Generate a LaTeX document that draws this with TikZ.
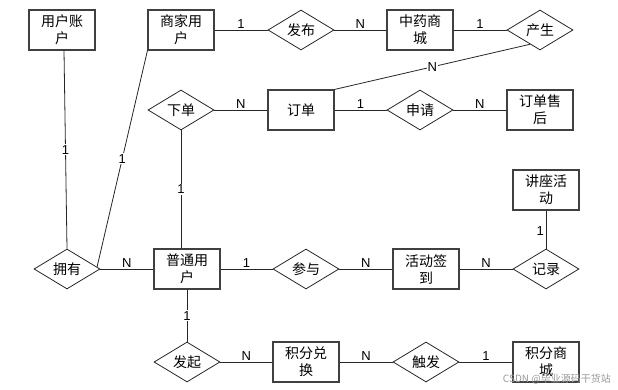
\documentclass[tikz,border=0pt]{standalone}
\usepackage{fontspec}
\setmainfont{Liberation Sans}
\newfontfamily\cjk{Noto Sans CJK SC}
\usetikzlibrary{shapes.geometric,calc}
\begin{document}
\begin{tikzpicture}[x=1pt,y=-1pt,
  entity/.style={draw=black!75,line width=1.1pt,minimum width=66pt,minimum height=40pt,inner sep=0pt,align=center,font=\cjk\fontsize{14}{17}\selectfont},
  rel/.style={diamond,draw=black!85,line width=0.8pt,minimum width=66pt,minimum height=40pt,inner sep=0pt,aspect=1.65,font=\cjk\fontsize{14}{17}\selectfont},
  conn/.style={draw=black!85,line width=0.8pt},
  lbl/.style={fill=white,inner sep=0.8pt,font=\fontsize{13}{13}\selectfont},
  lblh/.style={lbl,midway,yshift=5.5pt},
  lblv/.style={lbl,midway}]
\useasboundingbox (0,0) rectangle (618,390);
% entities
\node[entity] (zhanghu) at (62,30) {用户账\\户};
\node[entity] (shangjia) at (181,30) {商家用\\户};
\node[entity] (shangcheng) at (420,30) {中药商\\城};
\node[entity] (dingdan) at (301,110) {订单};
\node[entity] (shouhou) at (540,110) {订单售\\后};
\node[entity] (jiangzuo) at (546,190) {讲座活\\动};
\node[entity] (putong) at (187,269) {普通用\\户};
\node[entity] (qiandao) at (426,269) {活动签\\到};
\node[entity] (duihuan) at (306,362) {积分兑\\换};
\node[entity] (jifen) at (546,362) {积分商\\城};
% relationships
\node[rel] (fabu) at (301,30) {发布};
\node[rel] (chansheng) at (540,30) {产生};
\node[rel] (xiadan) at (181,110) {下单};
\node[rel] (shenqing) at (420,110) {申请};
\node[rel] (yongyou) at (67,269) {拥有};
\node[rel] (canyu) at (306,269) {参与};
\node[rel] (jilu) at (546,269) {记录};
\node[rel] (faqi) at (187,362) {发起};
\node[rel] (chufa) at (426,362) {触发};
% helper coordinates
\coordinate (csout) at ($(chansheng.south)!0.3!(chansheng.west)$);
\coordinate (yyin) at ($(yongyou.east)!0.1!(yongyou.north)$);
% connectors
\draw[conn] (shangjia.east) -- node[lblh]{1} (fabu.west);
\draw[conn] (fabu.east) -- node[lblh]{N} (shangcheng.west);
\draw[conn] (shangcheng.east) -- node[lblh]{1} (chansheng.west);
\draw[conn] (csout) -- node[lblv]{N} (dingdan.north east);
\draw[conn] (xiadan.east) -- node[lblh]{N} (dingdan.west);
\draw[conn] (dingdan.east) -- node[lblh]{1} (shenqing.west);
\draw[conn] (shenqing.east) -- node[lblh]{N} (shouhou.west);
\draw[conn] (zhanghu.south -| 64,0) -- node[lblv]{1} (yongyou.north);
\draw[conn] (shangjia.south west) -- node[lblv]{1} (yyin);
\draw[conn] (xiadan.south) -- node[lblv]{1} (putong.north -| xiadan.south);
\draw[conn] (jiangzuo.south) -- node[lbl,pos=0.55,anchor=east,fill=none,xshift=-1pt]{1} (jilu.north);
\draw[conn] (yongyou.east) -- node[lblh]{N} (putong.west);
\draw[conn] (putong.east) -- node[lblh]{1} (canyu.west);
\draw[conn] (canyu.east) -- node[lblh]{N} (qiandao.west);
\draw[conn] (qiandao.east) -- node[lblh]{N} (jilu.west);
\draw[conn] (putong.south) -- node[lblv]{1} (faqi.north);
\draw[conn] (faqi.east) -- node[lblh]{N} (duihuan.west);
\draw[conn] (duihuan.east) -- node[lblh]{N} (chufa.west);
\draw[conn] (chufa.east) -- node[lblh]{1} (jifen.west);
% watermark
\node[anchor=east,text=black!40,inner sep=0pt,font=\cjk\fontsize{10}{10}\selectfont] (wm) at (611,379) {CSDN @毕业源码干货站};
\end{tikzpicture}
\end{document}
